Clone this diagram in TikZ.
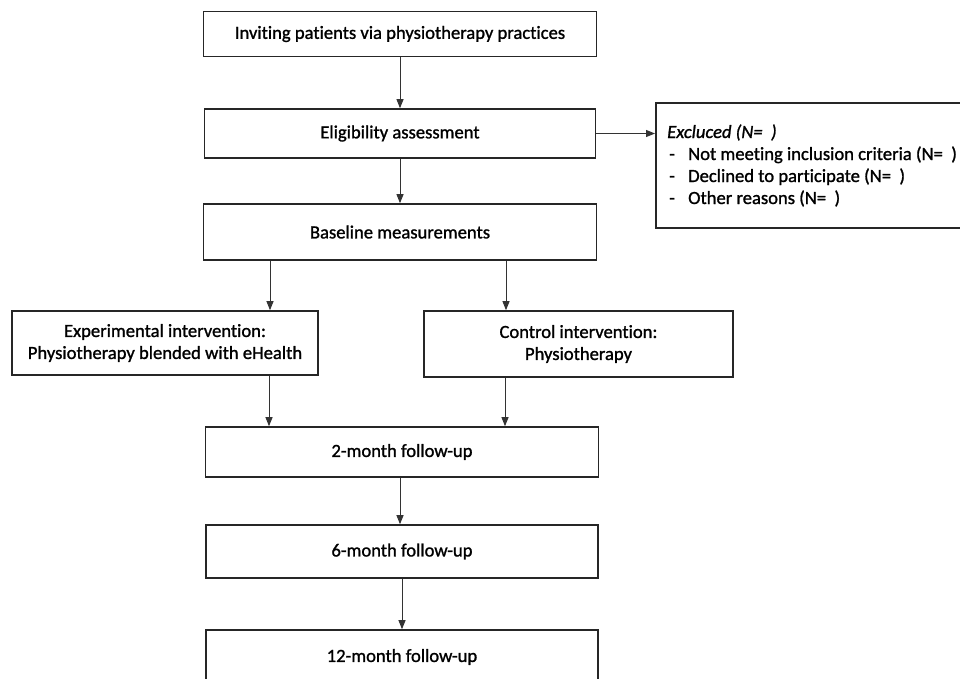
\documentclass[tikz,border=0pt]{standalone}
\usepackage{fontspec}
\setmainfont{Carlito}[Ligatures=NoCommon, FakeBold=1.2]
\usetikzlibrary{arrows.meta}
\begin{document}
\begin{tikzpicture}[x=1pt,y=-1pt,
  txt/.style={font=\fontsize{18.6}{22}\selectfont},
  box/.style={draw=black!85, line width=1.6pt, inner sep=0pt, align=center, txt},
  arr/.style={draw=black!80, line width=0.9pt, -{Triangle[length=9pt,width=7pt]}}]
\useasboundingbox (0,0) rectangle (960,678);
\fill[white] (0,0) rectangle (960,678);
\clip (0,0) rectangle (960,678);
\node[box, minimum width=393pt, minimum height=45pt] (invite) at (400,34) {Inviting patients via physiotherapy practices};
\node[box, minimum width=391pt, minimum height=49pt] (elig) at (400,133.5) {Eligibility assessment};
\node[box, minimum width=393pt, minimum height=56pt] (base) at (400,232) {Baseline measurements};
\node[box, minimum width=306pt, minimum height=64pt] (exp) at (165,343) {Experimental intervention:\\Physiotherapy blended with eHealth};
\node[box, minimum width=309pt, minimum height=66pt] (ctrl) at (578.5,344) {Control intervention:\\Physiotherapy};
\node[box, minimum width=393pt, minimum height=50pt] (m2) at (402,452) {2-month follow-up};
\node[box, minimum width=392pt, minimum height=53pt] (m6) at (402,551.5) {6-month follow-up};
\node[box, minimum width=392pt, minimum height=54pt] (m12) at (402,657) {12-month follow-up};
\node[box, minimum width=330pt, minimum height=125pt, anchor=north west] (excl) at (655,102) {};
\node[txt, anchor=base west, align=left, inner sep=0pt] (excltext) at (667,204)
  {\textit{Excluced (N=\ \ )}\\
   \makebox[21pt][l]{\hspace{2pt}-}Not meeting inclusion criteria (N=\ \ )\\
   \makebox[21pt][l]{\hspace{2pt}-}Declined to participate (N=\ \ )\\
   \makebox[21pt][l]{\hspace{2pt}-}Other reasons (N=\ \ )};
\draw[arr] (invite.south) -- (elig.north);
\draw[arr] (elig.south) -- (base.north);
\draw[arr] (elig.east) -- (elig.east -| excl.west);
\draw[arr] ([xshift=-130pt]base.south) -- ([xshift=-130pt]base.south |- exp.north);
\draw[arr] ([xshift=106pt]base.south) -- ([xshift=106pt]base.south |- ctrl.north);
\draw[arr] ([xshift=104pt]exp.south) -- ([xshift=104pt]exp.south |- m2.north);
\draw[arr] ([xshift=-73.5pt]ctrl.south) -- ([xshift=-73.5pt]ctrl.south |- m2.north);
\draw[arr] ([xshift=-2pt]m2.south) -- ([xshift=-2pt]m2.south |- m6.north);
\draw[arr] (m6.south) -- (m12.north);
\end{tikzpicture}
\end{document}
